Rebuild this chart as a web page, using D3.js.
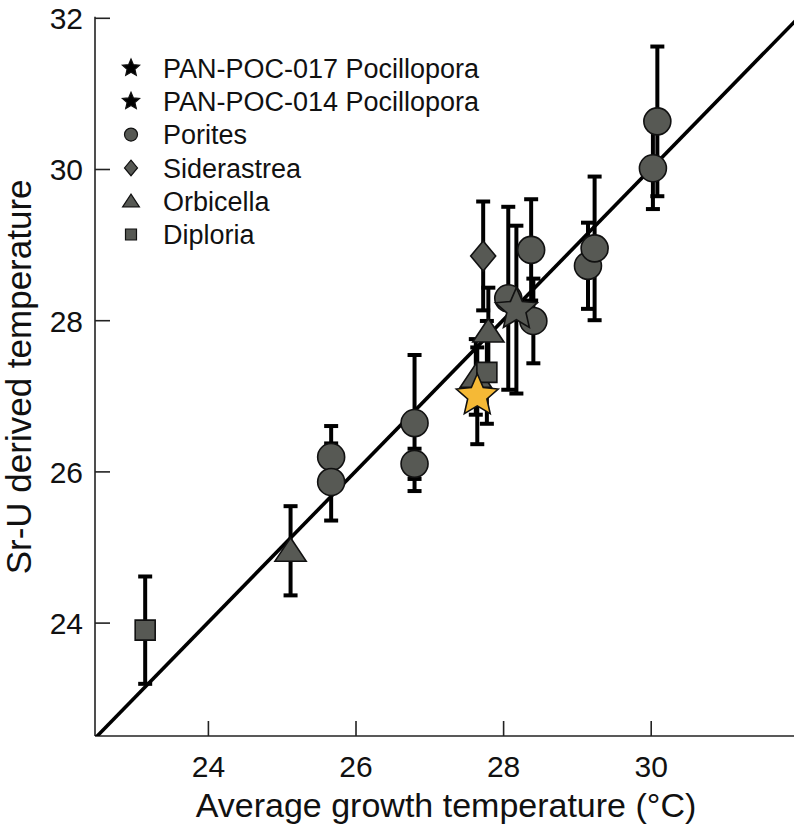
<!DOCTYPE html>
<html>
<head>
<meta charset="utf-8">
<script src="https://cdn.jsdelivr.net/npm/d3@7"></script>
<style>
  html, body { margin: 0; padding: 0; background: #fff; }
  svg { display: block; font-family: "Liberation Sans", Arial, Helvetica, sans-serif; }
</style>
</head>
<body>
<svg id="chart" width="794" height="826"></svg>
<script>
// Axis ticks
const xTicks = [24, 26, 28, 30];
const yTicks = [24, 26, 28, 30, 32];

// Porites
const poritesX   = [25.67, 25.67, 26.80, 26.80, 28.07, 28.41, 28.38, 29.15, 29.24, 30.03, 30.09];
const poritesY   = [26.19, 25.86, 26.64, 26.10, 28.29, 27.99, 28.93, 28.72, 28.95, 30.01, 30.63];
const poritesErr = [0.41, 0.51, 0.90, 0.20, 1.21, 0.56, 0.67, 0.57, 0.95, 0.54, 0.99];

// Siderastrea
const siderX   = [27.73];
const siderY   = [28.85];
const siderErr = [0.72];

// Orbicella
const orbX   = [25.12, 27.63, 27.80];
const orbY   = [24.95, 27.25, 27.85];
const orbErr = [0.59, 0.50, 0.58];

// Diploria
const diplX   = [23.15, 27.78];
const diplY   = [23.90, 27.31];
const diplErr = [0.71, 0.68];

// Pocillopora cores
const poc017X = [28.18], poc017Y = [28.14], poc017Err = [1.11];
const poc014X = [27.65], poc014Y = [27.00], poc014Err = [0.64];

const legendLabels = ["PAN-POC-017 Pocillopora", "PAN-POC-014 Pocillopora", "Porites", "Siderastrea", "Orbicella", "Diploria"];
const legendShapes = ["star", "star", "circle", "diamond", "triangle", "square"];

const GRAY = "#575954";
const GOLD = "#f5b936";

const svg = d3.select("#chart");
const x = d3.scaleLinear().domain([22.47, 32]).range([95, 798.3]);
const y = d3.scaleLinear().domain([22.5, 32]).range([736, 17.8]);

// star path centred on origin
function starPath(R, ratio) {
  const r = R * ratio;
  const pts = [];
  for (let i = 0; i < 10; i++) {
    const a = -Math.PI / 2 + i * Math.PI / 5;
    const rad = i % 2 === 0 ? R : r;
    pts.push([rad * Math.cos(a), rad * Math.sin(a)]);
  }
  return "M" + pts.map(p => p[0].toFixed(2) + "," + p[1].toFixed(2)).join("L") + "Z";
}
function shapePath(kind, s) {
  switch (kind) {
    case "star": return starPath(s, 0.46);
    case "circle": return d3.symbol(d3.symbolCircle, Math.PI * s * s)();
    case "diamond": return `M0,${-s * 1.2}L${s},0L0,${s * 1.2}L${-s},0Z`;
    case "triangle": return `M0,${-s}L${s * 1.2},${s * 0.8}L${-s * 1.2},${s * 0.8}Z`;
    case "square": return `M${-s},${-s}H${s}V${s}H${-s}Z`;
  }
}

// clip for the 1:1 line
svg.append("clipPath").attr("id", "plotClip")
  .append("rect").attr("x", 95).attr("y", 17).attr("width", 699).attr("height", 719);

// axes
const xAxis = d3.axisBottom(x).tickValues(xTicks).tickSize(0).tickPadding(0).tickFormat(d3.format("d"));
const gx = svg.append("g").attr("transform", `translate(0,${y(22.5)})`).call(xAxis);
gx.select(".domain").remove();
gx.append("line").attr("x1", 95).attr("x2", 794).attr("stroke", "#222").attr("stroke-width", 1.6);
gx.selectAll(".tick").append("line").attr("y1", 0).attr("y2", -15).attr("stroke", "#222").attr("stroke-width", 1.6);
gx.selectAll(".tick text").attr("y", 41).attr("dy", 0).attr("fill", "#111")
  .style("font-size", "30px").style("font-family", "'Liberation Sans', Arial, sans-serif");

const yAxis = d3.axisLeft(y).tickValues(yTicks).tickSize(0).tickPadding(0).tickFormat(d3.format("d"));
const gy = svg.append("g").attr("transform", `translate(${x(22.47)},0)`).call(yAxis);
gy.select(".domain").remove();
gy.append("line").attr("y1", y(32) - 1).attr("y2", y(22.5)).attr("stroke", "#222").attr("stroke-width", 1.6);
gy.selectAll(".tick").append("line").attr("x1", 0).attr("x2", 15).attr("stroke", "#222").attr("stroke-width", 1.6);
gy.selectAll(".tick text").attr("x", -12).attr("dy", "0.36em").attr("fill", "#111")
  .style("font-size", "30px").style("font-family", "'Liberation Sans', Arial, sans-serif");

// axis titles
svg.append("text").attr("x", 446).attr("y", 817).attr("text-anchor", "middle")
  .attr("fill", "#111").style("font-size", "34px")
  .text("Average growth temperature (°C)");
svg.append("text").attr("transform", `translate(31,${(y(32) + y(22.5)) / 2}) rotate(-90)`)
  .attr("text-anchor", "middle").attr("fill", "#111").style("font-size", "35px")
  .text("Sr-U derived temperature");

// 1:1 line
svg.append("line").attr("clip-path", "url(#plotClip)")
  .attr("x1", x(22.47)).attr("y1", y(22.47)).attr("x2", x(32)).attr("y2", y(32))
  .attr("stroke", "#000").attr("stroke-width", 3.6);

// assemble series
const groups = [
  { xs: poritesX, ys: poritesY, es: poritesErr, shape: "circle", size: 13.5, fill: GRAY },
  { xs: siderX, ys: siderY, es: siderErr, shape: "diamond", size: 12.5, fill: GRAY },
  { xs: orbX, ys: orbY, es: orbErr, shape: "triangle", size: 13, fill: GRAY },
  { xs: diplX, ys: diplY, es: diplErr, shape: "square", size: 10, fill: GRAY },
  { xs: poc017X, ys: poc017Y, es: poc017Err, shape: "star", size: 22, fill: GRAY },
  { xs: poc014X, ys: poc014Y, es: poc014Err, shape: "star", size: 22, fill: GOLD }
];
const pts = [];
groups.forEach(g => g.xs.forEach((v, i) => pts.push({ x: v, y: g.ys[i], e: g.es[i], shape: g.shape, size: g.size, fill: g.fill })));

// error bars
const eb = svg.append("g").attr("stroke", "#000").attr("stroke-width", 4).attr("fill", "none");
pts.forEach(p => {
  const cx = x(p.x);
  eb.append("line").attr("x1", cx).attr("x2", cx).attr("y1", y(p.y + p.e)).attr("y2", y(p.y - p.e));
  [p.y + p.e, p.y - p.e].forEach(v => {
    eb.append("line").attr("x1", cx - 7).attr("x2", cx + 7).attr("y1", y(v)).attr("y2", y(v));
  });
});

// markers
svg.append("g").selectAll("path").data(pts).join("path")
  .attr("transform", d => `translate(${x(d.x)},${y(d.y)})`)
  .attr("d", d => shapePath(d.shape, d.size))
  .attr("fill", d => d.fill).attr("stroke", "#111").attr("stroke-width", 1.6)
  .attr("stroke-linejoin", "miter");

// legend
const lg = svg.append("g");
const legendSizes = { star: 9, circle: 6.5, diamond: 6.5, triangle: 7, square: 5.5 };
legendLabels.forEach((lab, i) => {
  const cy = 68 + i * 33.3;
  const sh = legendShapes[i];
  lg.append("path").attr("transform", `translate(131,${cy})`)
    .attr("d", shapePath(sh, legendSizes[sh]))
    .attr("fill", sh === "star" ? "#000" : GRAY).attr("stroke", "#111").attr("stroke-width", 1.2);
  lg.append("text").attr("x", 163).attr("y", cy).attr("dy", "0.36em")
    .attr("fill", "#111").style("font-size", "27px").text(lab);
});
</script>
</body>
</html>
